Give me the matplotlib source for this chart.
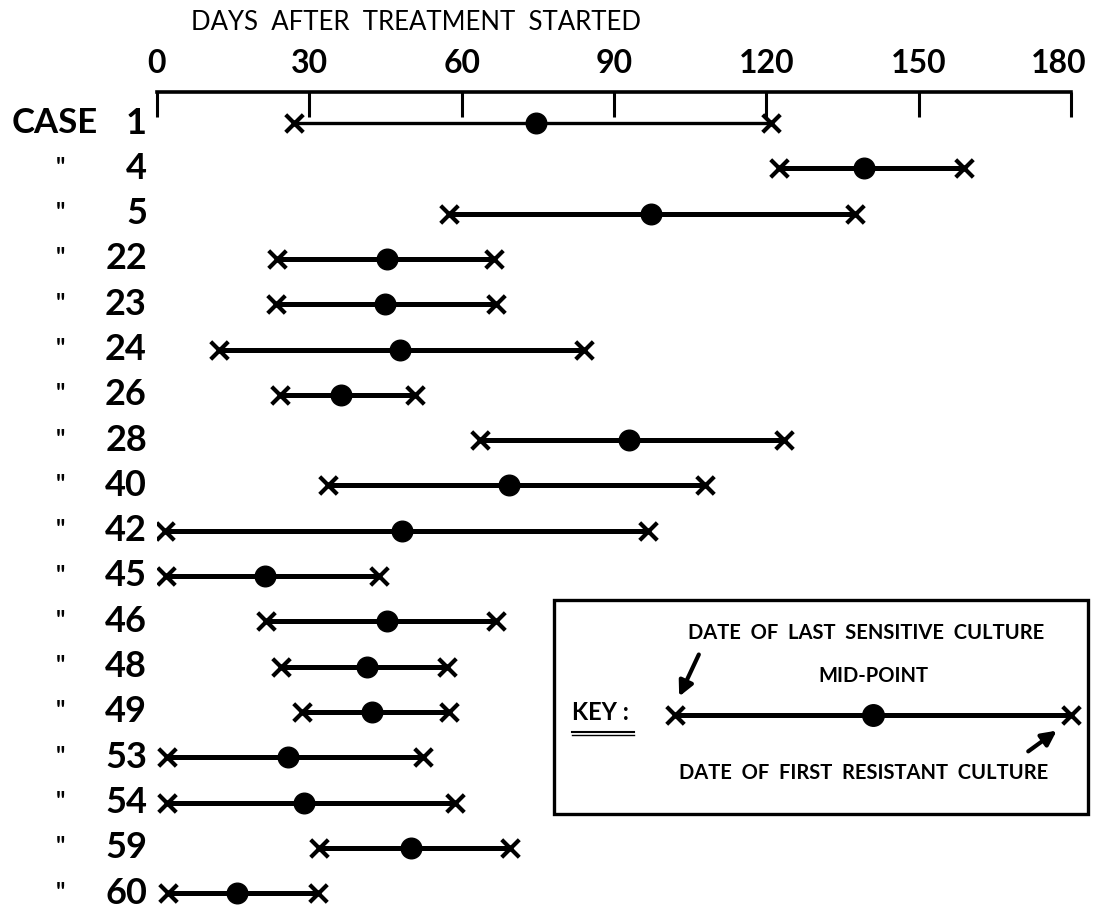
import matplotlib
matplotlib.use("Agg")
import matplotlib.pyplot as plt
from matplotlib.transforms import blended_transform_factory, ScaledTranslation
from matplotlib.patches import Rectangle, FancyArrowPatch

# ---- data (days after treatment started) ----
cases = ['1', '4', '5', '22', '23', '24', '26', '28', '40', '42', '45', '46',
         '48', '49', '53', '54', '59', '60']
last_sensitive = [27, 122.4, 57.6, 23.6, 23.4, 12.2, 24.2, 63.7, 33.6, 1.6, 1.8,
                  21.4, 24.4, 28.5, 2.0, 2.0, 32.0, 2.2]
mid_point = [74.6, 139.3, 97.2, 45.2, 44.9, 47.8, 36.2, 93.0, 69.4, 48.2, 21.2,
             45.2, 41.3, 42.3, 25.8, 29.0, 50.0, 15.7]
first_resistant = [121, 159, 137.5, 66.3, 66.7, 84.0, 50.8, 123.4, 108.0, 96.6,
                   43.7, 66.7, 57.2, 57.5, 52.3, 58.6, 69.6, 31.7]
xticks = [0, 30, 60, 90, 120, 150, 180]

W, H = 1099, 914
fig = plt.figure(figsize=(W / 100, H / 100), dpi=100)
FONT = ['Lato', 'DejaVu Sans']

# main axes: x 0..180 spans pixels 157..1071, top spine at y=92
ax_top = 92
row_px = 45.3
first_row_px = 123
ylow = -(first_row_px - ax_top) / row_px
yhigh = ylow + (H - ax_top) / row_px
ax = fig.add_axes([157 / W, 0, (1071 - 157) / W, (H - ax_top) / H])
ax.set_xlim(0, 180)
ax.set_ylim(yhigh, ylow)
for s in ['bottom', 'left', 'right']:
    ax.spines[s].set_visible(False)
ax.spines['top'].set_linewidth(2.6)
ax.xaxis.tick_top()
ax.set_xticks(xticks)
ax.set_xticklabels([str(t) for t in xticks], fontsize=23, family=FONT,
                   fontweight='bold')
ax.tick_params(axis='x', direction='in', length=18, width=2.2, pad=10)
ax.set_yticks([])
ax.patch.set_alpha(0)
last_lbl = ax.get_xticklabels()[-1]
last_lbl.set_transform(last_lbl.get_transform() +
                       ScaledTranslation(-12 / 100, 0, fig.dpi_scale_trans))

rows = list(range(len(cases)))
for i in rows:
    lw = 2.4 if i == 0 else 3.6
    ax.plot([last_sensitive[i], first_resistant[i]], [i, i], color='black',
            lw=lw, solid_capstyle='butt', zorder=2)
ax.scatter(last_sensitive, rows, marker='x', s=160, linewidths=3, color='black', zorder=3)
ax.scatter(first_resistant, rows, marker='x', s=160, linewidths=3, color='black', zorder=3)
ax.scatter(mid_point, rows, marker='o', s=220, color='black', zorder=4)

# overlay in pixel coordinates
ov = fig.add_axes([0, 0, 1, 1])
ov.set_xlim(0, W)
ov.set_ylim(H, 0)
ov.axis('off')
ov.patch.set_alpha(0)

trans = blended_transform_factory(ov.transData, ax.transData)
for i, c in enumerate(cases):
    ov.text(147, i, c, transform=trans, ha='right', va='center', fontsize=26,
            family=FONT, fontweight='bold')
    if i == 0:
        ov.text(12, i, 'CASE', transform=trans, ha='left', va='center',
                fontsize=25, family=FONT, fontweight='bold')
    else:
        ov.text(60, i - 0.02, '"', transform=trans, ha='center', va='center',
                fontsize=17, fontweight='bold', family=FONT)

ov.text(416, 22, 'DAYS  AFTER  TREATMENT  STARTED', ha='center', va='center',
        fontsize=18.5, family=FONT)

# key box
ov.add_patch(Rectangle((554, 600), 534, 214, fill=False, lw=2.4, color='black'))
ov.plot([675, 1071], [715, 715], color='black', lw=3.6, solid_capstyle='butt')
ov.scatter([675, 1071], [715, 715], marker='x', s=160, linewidths=3, color='black')
ov.scatter([873], [715], marker='o', s=240, color='black')
ov.text(572, 712, 'KEY :', ha='left', va='center', fontsize=17, fontweight='bold', family=FONT)
ov.plot([572, 634], [732, 732], color='black', lw=1.5)
ov.plot([572, 634], [735, 735], color='black', lw=1.0)
ov.text(688, 633, 'DATE  OF  LAST  SENSITIVE  CULTURE', ha='left', va='center',
        fontsize=14.5, fontweight='bold', family=FONT)
ov.text(873, 676, 'MID-POINT', ha='center', va='center', fontsize=14.5,
        fontweight='bold', family=FONT)
ov.text(679, 773, 'DATE  OF  FIRST  RESISTANT  CULTURE', ha='left', va='center',
        fontsize=14.5, fontweight='bold', family=FONT)
ov.add_patch(FancyArrowPatch((700, 652), (678, 699), arrowstyle='-|>',
                             mutation_scale=22, lw=3, color='black'))
ov.add_patch(FancyArrowPatch((1026, 753), (1059, 729), arrowstyle='-|>',
                             mutation_scale=22, lw=3, color='black'))

fig.savefig('out.png', dpi=100, facecolor='white')
